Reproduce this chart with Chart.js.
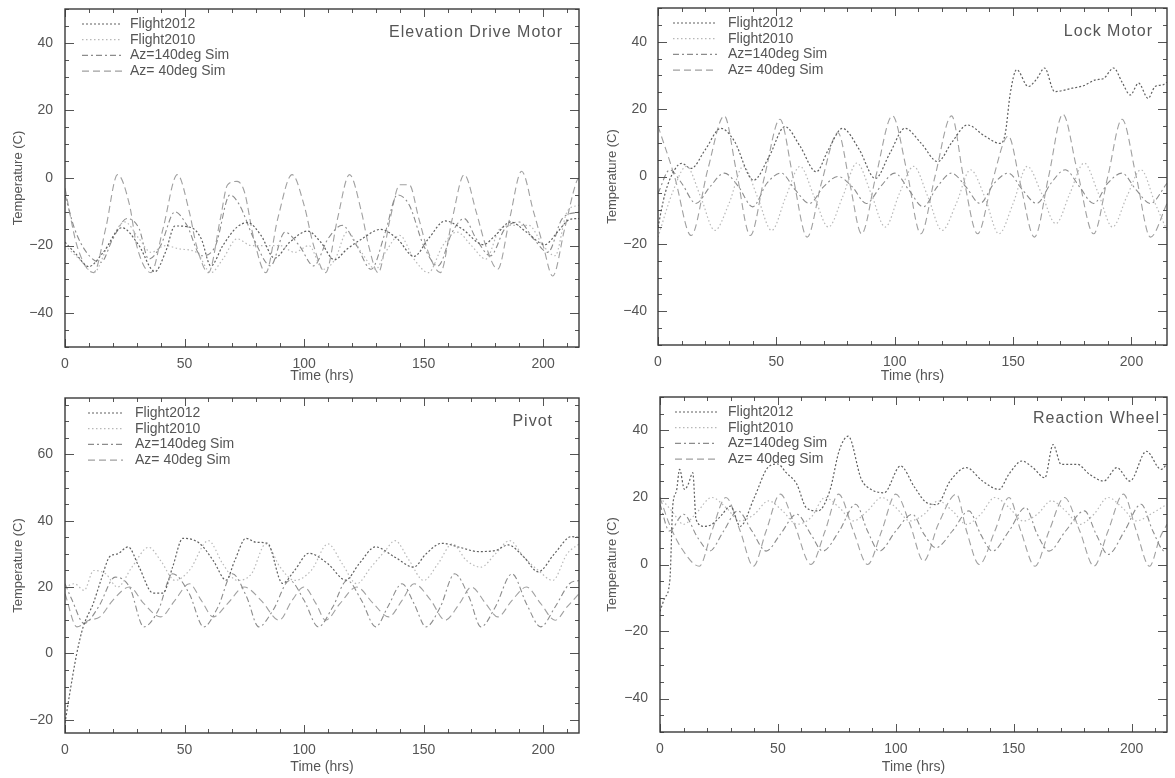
<!DOCTYPE html>
<html lang="en">
<head>
<meta charset="UTF-8">
<title>Mechanism temperatures</title>
<script src="https://cdn.jsdelivr.net/npm/chart.js"></script>
<style>
  html, body { margin: 0; padding: 0; background: #fff; width: 1175px; height: 778px; overflow: hidden; }
  .panel { position: absolute; }
</style>
</head>
<body>
<div class="panel" style="left:0;top:0"><canvas id="c1" width="590" height="389"></canvas></div>
<div class="panel" style="left:590px;top:0"><canvas id="c2" width="585" height="389"></canvas></div>
<div class="panel" style="left:0;top:389px"><canvas id="c3" width="590" height="389"></canvas></div>
<div class="panel" style="left:590px;top:389px"><canvas id="c4" width="585" height="389"></canvas></div>

<script>
// ---- data (time in hrs, temperature in C) ----
const xTicks = [0, 50, 100, 150, 200];
const seriesNames = ['Flight2012', 'Flight2010', 'Az=140deg Sim', 'Az= 40deg Sim'];

// Elevation Drive Motor
const elevF12T = [0,4,10,16,23.8,30.7,37.6,42,46,52.9,57,61,66,72,76.5,82,87.6,94,101.5,107,112.7,118,123.8,132,139,146,152,159,166,175,180,186.4,193,200.7,206,211.3,215];
const elevF12V = [-19,-22,-26.2,-22,-14.7,-19.7,-27.7,-22,-14.2,-14.7,-18,-26,-20,-14.5,-13.2,-17,-23.7,-19,-15.7,-19,-24.2,-21,-18.2,-15.2,-18,-23.2,-18,-12.7,-15,-19.7,-17,-13,-16,-19.7,-16,-12.2,-12];
const elevF10T = [0,6,12,18,25,31,36,42,48,55,61,66,72,78,84,90,96,102,108,113,118,124,130,134,140,146,152,158,164,170,176,182,188,194,200,205,210,215];
const elevF10V = [-20,-24,-28,-20,-13,-18,-22,-20,-21,-22,-28,-24,-18,-20,-20,-20,-22,-20,-27,-24,-16,-22,-27,-22,-17,-24,-28,-20,-16,-20,-24,-15,-14,-14,-20,-23,-10,-8];
const elevAz140T = [0,4,9,15,20,26,31,35,40,46,51,57,63,69,73,79,86,92,98,104,110,116,122,128,134,139,144,150,156,162,167,172,178,184,190,196,202,208,215];
const elevAz140V = [-5,-15,-22,-25,-18,-12,-15,-24,-20,-10,-14,-23,-20,-5,-8,-18,-26,-16,-20,-26,-18,-14,-20,-27,-16,-5,-8,-20,-26,-16,-12,-18,-23,-15,-13,-18,-22,-12,-10];
const elevAz40T = [0,5,12,17,22,27,30,36,41,47,52,55,60,65,68,72,75,79,84,89,95,100,104,109,114,119,124,127,131,136,140,144,148,152,157,162,167,172,176,181,186,191,196,200,204,209,214,215];
const elevAz40V = [-3,-20,-28,-15,1,-8,-20,-28,-15,1,-10,-20,-28,-12,-2,-1,-4,-18,-28,-12,1,-8,-20,-28,-12,1,-10,-20,-28,-12,-2,-2,-12,-22,-28,-12,1,-10,-20,-27,-12,2,-10,-20,-29,-15,-1,0];

// Lock Motor
const lockF12T = [0,3,7,10,14,20,26.5,32,40.4,47,53.6,60,66.8,72,77.9,85,91.8,98,104.3,111,118.2,124,130.7,138,144.6,146.7,148.8,151.5,156.4,160,163.3,167.5,175,180,184.9,188,192.5,196,199.5,203,207,210,213.3,215];
const lockF12V = [-15,-5,2,3.9,2.4,8,14.3,10.8,-1.1,6,14.8,9,1.4,8,14.3,8,-0.6,7,14.3,10,4.4,10,15.3,12,9.8,12.8,24.7,31.7,26.7,29,32.2,25.2,26.2,27,28.7,29,32.2,28,24.2,27.7,23.2,26.7,27.2,28];
const lockF10T = [0,6,12,18,24,30,36,42,48,54,60,66,72,78,84,90,96,102,108,114,120,126,132,138,144,150,156,162,168,174,180,186,192,198,204,210,215];
const lockF10V = [-18,-5,3,-6,-16,-8,3,-6,-16,-6,3,-6,-15,-6,4,-5,-15,-5,3,-6,-16,-8,2,-6,-17,-8,3,-5,-14,-5,4,-5,-15,-6,2,-8,-16];
const lockAz140T = [0,5,10,16,22,28,34,40,46,52,58,64,70,76,82,88,94,100,106,112,118,124,130,136,142,148,154,160,166,172,178,184,190,196,202,208,215];
const lockAz140V = [-5,2,-2,-8,-3,1,-3,-9,-2,1,-4,-8,-3,0,-3,-8,-3,1,-4,-9,-3,1,-3,-8,-2,1,-4,-8,-2,2,-3,-8,-2,1,-4,-8,-2];
const lockAz40T = [0,7,14,21,28,33,39,45,51.5,57,63,69,76,81,86,92,99,105,111,117,124,129,135,141,148,153,159,165,171,177,184,190,196,202,208,215];
const lockAz40V = [15,0,-17.5,2,18,2,-17.5,0,17,0,-18,-2,13,-2,-17,0,18,2,-17,0,18,0,-17,-2,12,-2,-18,0,18.5,2,-17,0,17,0,-18,-8];

// Pivot
const pivF12T = [0,2,4.9,7.6,11.8,15,18.75,22,26.4,31,36.8,41,45,49.3,56.25,62,67.4,71,75.7,80,84.7,91,96,102,110,117.4,123,129.9,138,145.8,151,157.6,165,172.9,180,185.4,192,197.9,204.9,211.8,215];
const pivF12V = [-21,-12,-0.1,8,15,22,29.2,30,32.1,26,18.2,18.2,26,34.7,33.2,28,22.1,28,34.7,33.5,33.2,21.1,25,30.2,27,22.1,27,32.1,29,26,30,33.2,32,30.7,31,32.7,29,24.6,30.2,35.2,35];
const pivF10T = [0,4,8,12,17,22,28,35,40,46,52,60,66,72,78,84,90,96,103,110,116,122,128,134,138,144,150,156,162,168,174,180,186,192,198,204,210,215];
const pivF10V = [20,21,19,25,24,20,26,32,28,22,25,34,27,22,24,33,26,22,25,33,27,21,26,31,34,28,22,27,33,28,26,30,34,29,25,22,30,33];
const pivAz140T = [0,3,8,14,21,27,33,39,45,52,58,64,70,76,81,87,94,100,106,112,118,124,130,135,141,146,151,157,163,169,174,180,187,193,199,205,211,215];
const pivAz140V = [21,16,9,14,23,20,8,13,24,18,8,14,24,17,8,13,22,16,8,14,22,16,8,14,21,15,8,14,24,17,8,14,24,15,8,14,21,22];
const pivAz40T = [0,5,10,14.6,20,27,33,40,46,52,57,62,68,75,82,89.6,95,100,105,109,115,122,129,135.4,141,146,153,159,165,170,176,181,187,193,199,205,210,215];
const pivAz40V = [18,8,10,11,16,20,15,11,16,21,16,11,15,20,16,10,16,20,15,10,15,20,15,11,16,21,16,10,15,20,15,11,16,20,15,10,14,18];

// Reaction Wheel
const rwF12T = [0,2,4.2,5.4,7,8.3,10.4,12,13.9,15.3,18.75,22,25.7,29.9,34,40,45.8,50,53.5,58,62,67,72,76,79.8,85.4,89.6,95,102,108,113.2,117.4,123,129.9,136.8,143.75,148,153.5,158,163.2,166.7,170.1,177,182,188.2,193.75,199.3,206.25,212.5,215];
const rwF12V = [-14,-10,-4.5,17.4,22,28.4,22.4,24,27.4,13.4,11.4,12,14.4,17.4,11.4,20,29,30,27.4,24,17,16,22,34,38.3,25.4,22.4,21.4,29.4,23,18.4,17.9,24.9,28.9,24.9,22.4,27,30.9,29,25.9,35.8,29.9,29.9,27,24.9,28.9,24.9,33.8,28.4,30];
const rwF10T = [0,5,10,15,22,28,34,40,46,52,58,64,70,76,82,88,94,100,106,112,118,124,130,136,142,148,154,160,166,172,178,184,190,196,202,208,215];
const rwF10V = [20,16,12,15,20,17,13,15,19,16,12,14,20,17,13,16,20,17,13,15,19,16,12,15,20,17,13,15,19,16,12,15,20,17,13,15,18];
const rwAz140T = [0,4,10,16,21,27,33,39,45,51,58,64,69,76,83,88,93,100,107,112,117,124,131,136,141,148,155,160,165,172,180,185,190,197,204,209,214,215];
const rwAz140V = [18,10,15,8,4,10,16,10,4,9,15,9,4,10,18,10,4,10,15,9,5,10,16,9,4,10,17,9,4,10,16,9,3,10,18,10,4,5];
const rwAz40T = [0,4,9,16.7,22,28,34,39.6,45,51,57,64,70,75.7,82,88,94,100,106,111.8,118,125.7,130,135.4,142,148,153,159,165,171.5,178,184,190,196.5,202,207.6,212,215];
const rwAz40V = [20,12,5,-0.5,10,20,10,-0.5,10,21,12,0,10,21,10,0,10,21,12,1,12,21,10,0,10,20,10,-0.5,10,20,10,-0.5,10,21,10,-0.5,8,12];

// ---- styles ----
const lineStyles = [
  { color: '#606060', width: 1.2, dash: [2, 2] },
  { color: '#b8b8b8', width: 1.2, dash: [1.5, 2.5] },
  { color: '#8c8c8c', width: 1.1, dash: [6, 3, 2, 3] },
  { color: '#a0a0a0', width: 1.1, dash: [7, 4] }
];
const textColor = '#555';
const fontFamily = '"Liberation Sans", Arial, Helvetica, sans-serif';

const panels = [
  { id: 'c1', title: 'Elevation Drive Motor', yMin: -50, yMax: 50, yTicks: [-40, -20, 0, 20, 40],
    data: [[elevF12T, elevF12V], [elevF10T, elevF10V], [elevAz140T, elevAz140V], [elevAz40T, elevAz40V]],
    yW: 65, xH: 42, top: 9, right: 11, yPad: 4, yTitlePad: 11, xTitlePad: 4.5,
    titleDx: 16, titleDy: 24, leg: [17, 57, 65] },
  { id: 'c2', title: 'Lock Motor', yMin: -50, yMax: 50, yTicks: [-40, -20, 0, 20, 40],
    data: [[lockF12T, lockF12V], [lockF10T, lockF10V], [lockAz140T, lockAz140V], [lockAz40T, lockAz40V]],
    yW: 68, xH: 44, top: 8, right: 8, yPad: 3, yTitlePad: 15, xTitlePad: 4.5,
    titleDx: 14, titleDy: 24, leg: [15, 59, 70] },
  { id: 'c3', title: 'Pivot', yMin: -24, yMax: 77, yTicks: [-20, 0, 20, 40, 60],
    data: [[pivF12T, pivF12V], [pivF10T, pivF10V], [pivAz140T, pivAz140V], [pivAz40T, pivAz40V]],
    yW: 65, xH: 45, top: 9, right: 11, yPad: 4, yTitlePad: 11, xTitlePad: 2.5,
    titleDx: 26, titleDy: 24, leg: [23, 58, 70] },
  { id: 'c4', title: 'Reaction Wheel', yMin: -50, yMax: 50, yTicks: [-40, -20, 0, 20, 40],
    data: [[rwF12T, rwF12V], [rwF10T, rwF10V], [rwAz140T, rwAz140V], [rwAz40T, rwAz40V]],
    yW: 70, xH: 46, top: 8, right: 8, yPad: 4, yTitlePad: 15, xTitlePad: 2.5,
    titleDx: 7, titleDy: 22, leg: [15, 57, 68] }
];

function pts(t, v) { return t.map((x, i) => ({ x: x, y: v[i] })); }

// inward ticks on all four sides, frame, in-plot legend and label
const idlFrame = {
  id: 'idlFrame',
  afterDatasetsDraw(chart, args, o) {
    const { ctx, chartArea: a, scales: { x, y } } = chart;
    ctx.save();
    ctx.strokeStyle = '#555';
    ctx.lineWidth = 1;
    ctx.setLineDash([]);
    ctx.beginPath();
    for (let v = 0; v <= x.max; v += 10) {
      const px = Math.round(x.getPixelForValue(v)) + 0.5;
      const len = (v % 50 === 0) ? 8 : 4;
      ctx.moveTo(px, a.bottom); ctx.lineTo(px, a.bottom - len);
      ctx.moveTo(px, a.top); ctx.lineTo(px, a.top + len);
    }
    for (let v = Math.ceil(y.min / 5) * 5; v <= y.max; v += 5) {
      const py = Math.round(y.getPixelForValue(v)) + 0.5;
      const len = (v % 20 === 0) ? 9 : 4;
      ctx.moveTo(a.left, py); ctx.lineTo(a.left + len, py);
      ctx.moveTo(a.right, py); ctx.lineTo(a.right - len, py);
    }
    ctx.stroke();
    ctx.strokeStyle = '#3a3a3a';
    ctx.lineWidth = 1.4;
    ctx.strokeRect(a.left, a.top, a.right - a.left, a.bottom - a.top);

    // legend
    ctx.font = '14px ' + fontFamily;
    ctx.fillStyle = textColor;
    ctx.textBaseline = 'middle';
    ctx.textAlign = 'left';
    chart.data.datasets.forEach((ds, i) => {
      const ly = a.top + 15 + i * 15.7;
      ctx.strokeStyle = ds.borderColor;
      ctx.lineWidth = ds.borderWidth;
      ctx.setLineDash(ds.borderDash);
      ctx.beginPath();
      ctx.moveTo(a.left + o.leg[0], ly);
      ctx.lineTo(a.left + o.leg[1], ly);
      ctx.stroke();
      ctx.fillText(ds.label, a.left + o.leg[2], ly);
    });

    // panel label
    ctx.font = '16px ' + fontFamily;
    ctx.letterSpacing = '1px';
    ctx.textAlign = 'right';
    ctx.fillText(o.title, a.right - o.titleDx, a.top + o.titleDy);
    ctx.restore();
  }
};

panels.forEach(p => {
  const datasets = p.data.map((d, i) => ({
    label: seriesNames[i],
    data: pts(d[0], d[1]),
    borderColor: lineStyles[i].color,
    borderWidth: lineStyles[i].width,
    borderDash: lineStyles[i].dash,
    pointRadius: 0,
    fill: false,
    cubicInterpolationMode: 'monotone'
  }));

  new Chart(document.getElementById(p.id), {
    type: 'line',
    data: { datasets: datasets },
    plugins: [idlFrame],
    options: {
      responsive: false,
      animation: false,
      layout: { padding: { top: p.top, right: p.right, left: 0, bottom: 0 } },
      plugins: {
        legend: { display: false },
        tooltip: { enabled: false },
        idlFrame: { title: p.title, titleDx: p.titleDx, titleDy: p.titleDy, leg: p.leg }
      },
      scales: {
        x: {
          type: 'linear',
          min: 0,
          max: 215,
          grid: { display: false },
          border: { display: false },
          afterBuildTicks: s => { s.ticks = xTicks.map(v => ({ value: v })); },
          afterFit: s => { s.height = p.xH; s.paddingLeft = 0; s.paddingRight = 0; },
          ticks: { color: textColor, padding: 1, font: { size: 14, family: fontFamily } },
          title: { display: true, text: 'Time (hrs)', color: textColor,
                   font: { size: 14, family: fontFamily }, padding: { top: 0, bottom: p.xTitlePad } }
        },
        y: {
          min: p.yMin,
          max: p.yMax,
          grid: { display: false },
          border: { display: false },
          afterBuildTicks: s => { s.ticks = p.yTicks.map(v => ({ value: v })); },
          afterFit: s => { s.width = p.yW; s.paddingTop = 0; s.paddingBottom = 0; },
          ticks: { color: textColor, padding: p.yPad, font: { size: 14, family: fontFamily },
                   callback: v => String(v).replace('-', '\u2212') },
          title: { display: true, text: 'Temperature (C)', color: textColor,
                   font: { size: 13, family: fontFamily }, padding: { top: p.yTitlePad, bottom: 0 } }
        }
      }
    }
  });
});
</script>
</body>
</html>
